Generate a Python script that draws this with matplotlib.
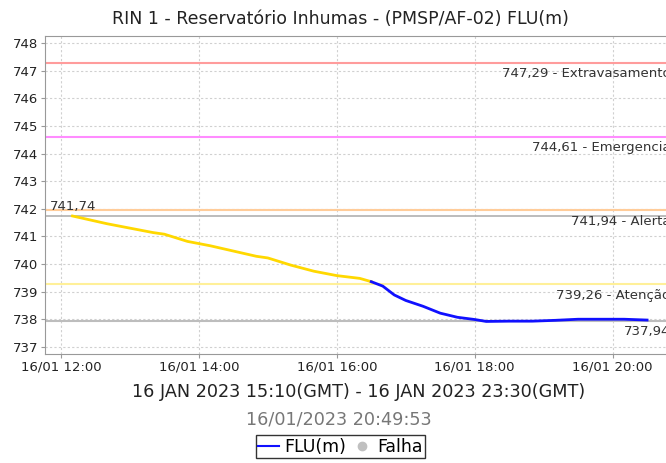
import matplotlib
matplotlib.use('Agg')
import matplotlib.pyplot as plt
import matplotlib.dates as mdates
from matplotlib.lines import Line2D
from datetime import datetime

# reading data (local time, 16/01/2023)
yellow_times = ['12:10', '12:40', '13:10', '13:20', '13:30', '13:50', '14:10', '14:30',
                '14:50', '15:00', '15:20', '15:40', '16:00', '16:20', '16:30']
yellow_vals = [741.74, 741.46, 741.22, 741.14, 741.08, 740.82, 740.66, 740.47,
               740.28, 740.22, 739.96, 739.74, 739.58, 739.48, 739.36]

blue_times = ['16:30', '16:40', '16:50', '17:00', '17:15', '17:30', '17:45', '18:00',
              '18:10', '18:30', '18:50', '19:10', '19:30', '19:50', '20:10', '20:30']
blue_vals = [739.36, 739.20, 738.88, 738.68, 738.47, 738.22, 738.07, 737.99,
             737.92, 737.93, 737.93, 737.96, 738.00, 738.00, 738.00, 737.97]

# reference levels
level_vals = [747.29, 744.61, 741.94, 739.26]
level_names = ['Extravasamento', 'Emergencia', 'Alerta', 'Atenção']
level_colors = ['#ff9c9c', '#ff8cff', '#ffcc99', '#fff099']
first_val = 741.74
last_val = 737.94

x_ticks = ['12:00', '14:00', '16:00', '18:00', '20:00']


def to_dt(s):
    return datetime.strptime('2023-01-16 ' + s, '%Y-%m-%d %H:%M')


def fmt(v):
    return f'{v:.2f}'.replace('.', ',')


fig = plt.figure(figsize=(6.66, 4.63), dpi=100)
ax = fig.add_axes([0.068, 0.2354, 0.945, 0.6868])

x_left = datetime(2023, 1, 16, 11, 46, 20)
x_right = datetime(2023, 1, 16, 20, 54, 0)
ax.set_xlim(x_left, x_right)
ax.set_ylim(736.74, 748.26)

ax.grid(True, color='#d0d0d0', linestyle=(0, (2, 2)), linewidth=0.8)
ax.set_axisbelow(True)

# level lines and their labels
for v, name, c in zip(level_vals, level_names, level_colors):
    ax.axhline(v, color=c, linewidth=1.5)
    ax.annotate(fmt(v) + ' - ' + name, xy=(x_right, v),
                xytext=(-3, -3), textcoords='offset points', ha='right', va='top',
                fontsize=9.5, color='#333333')

ax.axhline(first_val, color='#b0b0b0', linewidth=1.2)
ax.annotate(fmt(first_val), xy=(x_left, first_val),
            xytext=(3, 2), textcoords='offset points', ha='left', va='bottom',
            fontsize=9.5, color='#333333')
ax.axhline(last_val, color='#bdbdbd', linewidth=1.5)
ax.annotate(fmt(last_val), xy=(x_right, last_val),
            xytext=(-3, -3), textcoords='offset points', ha='right', va='top',
            fontsize=9.5, color='#333333')

ax.plot([to_dt(t) for t in yellow_times], yellow_vals, color='#ffd800', linewidth=2)
ax.plot([to_dt(t) for t in blue_times], blue_vals, color='#1010ff', linewidth=2)

ax.set_yticks(range(737, 749))
ax.set_xticks([to_dt(t) for t in x_ticks])
ax.xaxis.set_major_formatter(mdates.DateFormatter('16/01 %H:%M'))
ax.tick_params(labelsize=9.5, colors='#999999', labelcolor='#222222', length=3, pad=2)
for sp in ax.spines.values():
    sp.set_color('#999999')

fig.text(0.511, 0.958, 'RIN 1 - Reservatório Inhumas - (PMSP/AF-02) FLU(m)',
         ha='center', va='center', fontsize=12.5, color='#222222')
fig.text(0.539, 0.154, '16 JAN 2023 15:10(GMT) - 16 JAN 2023 23:30(GMT)',
         ha='center', va='center', fontsize=12.7, color='#222222')
fig.text(0.509, 0.093, '16/01/2023 20:49:53',
         ha='center', va='center', fontsize=12.7, color='#777777')

handles = [Line2D([], [], color='#1010ff', linewidth=1.5),
           Line2D([], [], color='#c0c0c0', marker='o', linestyle='none', markersize=6)]
leg = fig.legend(handles, ['FLU(m)', 'Falha'], loc='center', bbox_to_anchor=(0.5113, 0.035),
                 ncol=2, fontsize=12.5, frameon=True, fancybox=False, handlelength=1.2,
                 handletextpad=0.3, columnspacing=0.3, borderpad=0.15, borderaxespad=0)
leg.get_frame().set_edgecolor('black')
leg.get_frame().set_linewidth(1)

fig.savefig('out.png', dpi=100)
